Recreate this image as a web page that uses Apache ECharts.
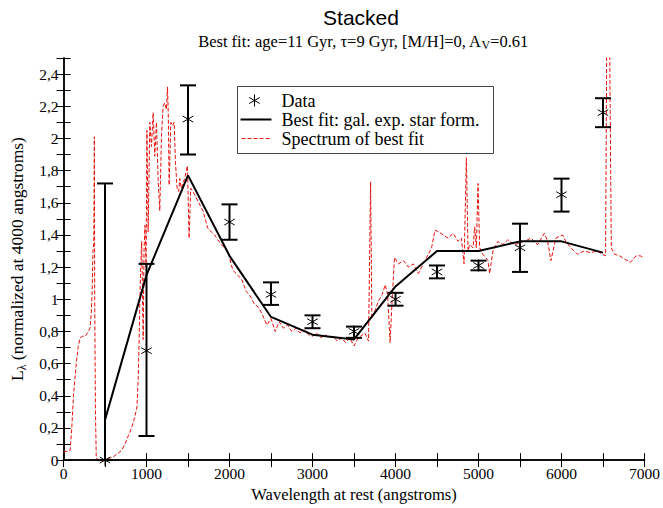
<!DOCTYPE html>
<html><head><meta charset="utf-8">
<script src="https://cdn.jsdelivr.net/npm/echarts@6/dist/echarts.min.js"></script>
<style>html,body{margin:0;padding:0;background:#fff}#c{width:663px;height:508px}</style>
</head><body><div id="c"></div>
<script>
// Observed data points with error bars
const dataX = [500, 1000, 1500, 2000, 2500, 3000, 3500, 4000, 4500, 5000, 5500, 6000, 6500];
const dataY = [0.0, 0.68, 2.12, 1.48, 1.03, 0.86, 0.80, 1.00, 1.17, 1.21, 1.32, 1.65, 2.16];
const errLow = [0.0, 0.15, 1.90, 1.37, 0.965, 0.82, 0.76, 0.96, 1.13, 1.18, 1.17, 1.545, 2.07];
const errHigh = [1.72, 1.22, 2.33, 1.59, 1.105, 0.90, 0.83, 1.04, 1.21, 1.24, 1.47, 1.75, 2.25];
// Best fit broad-band model
const fitX = [500, 1000, 1500, 2000, 2500, 3000, 3500, 4000, 4500, 5000, 5500, 6000, 6500];
const fitY = [0.25, 1.15, 1.77, 1.27, 0.89, 0.78, 0.75, 1.08, 1.30, 1.30, 1.36, 1.36, 1.29];
// Spectrum of best fit
const specX = [0,80,100,120,150,175,200,230,260,290,320,335,345,355,365,372,376,385,395,440,480,540,600,650,700,740,780,820,860,885,900,912,920,930,942,950,960,970,982,995,1005,1020,1040,1060,1080,1100,1120,1140,1160,1180,1200,1220,1240,1253,1262,1273,1293,1313,1333,1349,1369,1389,1400,1420,1460,1493,1513,1533,1560,1620,1680,1740,1820,1900,1980,2040,2100,2150,2200,2250,2300,2350,2400,2450,2500,2550,2600,2650,2700,2750,2800,2850,2900,2950,3000,3050,3100,3150,3200,3250,3300,3350,3400,3450,3500,3540,3580,3630,3675,3700,3715,3740,3795,3840,3876,3905,3935,3960,3988,4036,4096,4156,4216,4275,4315,4375,4435,4475,4515,4575,4635,4695,4754,4794,4826,4854,4874,4894,4934,4954,4974,4994,5014,5054,5114,5134,5174,5234,5293,5353,5433,5553,5633,5713,5793,5833,5872,5932,6012,6052,6112,6192,6272,6351,6431,6491,6531,6545,6580,6600,6640,6700,6760,6830,6900,6950,6985];
const specY = [0.05,0.06,0.20,0.40,0.58,0.70,0.76,0.77,0.77,0.79,0.82,0.92,1.05,1.30,1.35,2.01,1.00,0.30,0.01,0.00,0.00,0.01,0.02,0.04,0.06,0.10,0.15,0.20,0.27,0.33,0.50,0.77,0.99,1.20,1.36,1.10,0.75,1.30,1.46,1.20,2.05,1.42,2.10,1.95,2.16,1.89,2.10,1.75,1.55,2.01,2.20,2.22,2.18,2.32,2.16,1.71,2.10,2.08,2.10,1.85,1.69,1.67,1.75,1.69,1.75,1.83,1.38,1.69,1.67,1.61,1.55,1.44,1.40,1.34,1.30,1.18,1.15,1.12,1.05,1.02,0.97,0.95,0.90,0.84,0.88,0.80,0.86,0.82,0.84,0.80,0.82,0.79,0.81,0.78,0.77,0.79,0.76,0.78,0.76,0.77,0.74,0.76,0.73,0.76,0.71,0.75,0.77,0.79,0.74,1.73,0.88,0.91,0.99,1.03,1.09,1.03,0.73,1.00,1.26,1.22,1.24,1.20,1.22,1.16,1.20,1.26,1.32,1.43,1.42,1.40,1.38,1.41,1.36,1.38,1.22,1.88,1.30,1.34,1.32,1.45,1.32,1.72,1.32,1.28,1.24,1.16,1.30,1.36,1.34,1.37,1.34,1.36,1.38,1.34,1.41,1.36,1.24,1.38,1.40,1.36,1.32,1.28,1.30,1.29,1.30,1.28,1.27,2.60,2.60,1.32,1.28,1.27,1.25,1.23,1.27,1.27,1.26];
// Axis labelling
const xLabelStep = 1000;
const yLabelStep = 0.2;

const serif = "'Liberation Serif','DejaVu Serif',serif";
const chart = echarts.init(document.getElementById('c'), null, {renderer: 'svg'});

const pts = dataX.map((x, i) => [x, dataY[i], errLow[i], errHigh[i]]);
const fit = fitX.map((x, i) => [x, fitY[i]]);
const spec = specX.map((x, i) => [x, specY[i]]);

function asterisk(cx, cy, s, lw) {
  const dx = s * 0.87, dy = s * 0.5;
  const st = {stroke: '#000', lineWidth: lw};
  return [
    {type: 'line', shape: {x1: cx, y1: cy - s, x2: cx, y2: cy + s}, style: st},
    {type: 'line', shape: {x1: cx - dx, y1: cy - dy, x2: cx + dx, y2: cy + dy}, style: st},
    {type: 'line', shape: {x1: cx - dx, y1: cy + dy, x2: cx + dx, y2: cy - dy}, style: st}
  ];
}

const tickStyle = {show: true, inside: true, length: 7, lineStyle: {color: '#000', width: 1}};
const axisLineStyle = {show: true, lineStyle: {color: '#000', width: 1.5}};
const legFont = "18px 'Liberation Serif','DejaVu Serif',serif";

const option = {
  backgroundColor: '#fff',
  animation: false,
  title: [
    {text: 'Stacked', left: 356, top: 2, textAlign: 'center',
     textStyle: {fontFamily: "'Liberation Sans',Arial,sans-serif", fontSize: 21, fontWeight: 'normal', color: '#000'}},
    {text: 'Best fit: age=11 Gyr, τ=9 Gyr, [M/H]=0, A{sub|V}=0.61', left: 358, top: 26, textAlign: 'center',
     textStyle: {fontFamily: serif, fontSize: 16.5, fontWeight: 'normal', color: '#000', lineHeight: 20,
       rich: {sub: {fontFamily: serif, fontSize: 12, color: '#000', lineHeight: 20, verticalAlign: 'bottom', padding: [10, 0, 0, 0]}}}}
  ],
  grid: {left: 63, right: 16, top: 58, bottom: 43, containLabel: false},
  xAxis: [
    {type: 'value', min: 0, max: 7000, interval: 500, position: 'bottom',
     axisLine: axisLineStyle, axisTick: tickStyle, splitLine: {show: false},
     axisLabel: {margin: 5, color: '#000', fontFamily: serif, fontSize: 15.5,
       formatter: v => (Math.round(v) % xLabelStep === 0 ? String(v) : '')},
     name: 'Wavelength at rest (angstroms)', nameLocation: 'middle', nameGap: 23,
     nameTextStyle: {fontFamily: serif, fontSize: 16.5, color: '#000'}},
    {type: 'value', min: 0, max: 7000, interval: 500, position: 'top',
     axisLine: axisLineStyle, axisTick: tickStyle, axisLabel: {show: false}, splitLine: {show: false}}
  ],
  yAxis: [
    {type: 'value', min: 0, max: 2.5, interval: 0.1, position: 'left',
     axisLine: axisLineStyle, axisTick: tickStyle, splitLine: {show: false},
     axisLabel: {margin: 5, color: '#000', fontFamily: serif, fontSize: 15.5,
       formatter: v => {
         const k = Math.round(v / 0.1);
         if (k % Math.round(yLabelStep / 0.1) !== 0 || v > 2.45) return '';
         return String(Math.round(v * 10) / 10).replace('.', ',');
       }},
     name: '{b|L}{s|λ} (normalized at 4000 angstroms)', nameLocation: 'middle', nameGap: 36, nameRotate: 90,
     nameTextStyle: {fontFamily: serif, fontSize: 17.5, color: '#000',
       rich: {b: {fontFamily: serif, fontSize: 17.5, color: '#000'},
              s: {fontFamily: serif, fontSize: 12, color: '#000', padding: [9, 0, 0, 0]}}}},
    {type: 'value', min: 0, max: 2.5, interval: 0.1, position: 'right',
     axisLine: axisLineStyle, axisTick: tickStyle, axisLabel: {show: false}, splitLine: {show: false}}
  ],
  series: [
    {name: 'Spectrum of best fit', type: 'line', data: spec, showSymbol: false, symbol: 'none',
     lineStyle: {color: '#e8100c', width: 1, type: [4, 2]}, clip: true, z: 2},
    {name: 'Best fit: gal. exp. star form.', type: 'line', data: fit, showSymbol: false, symbol: 'none',
     lineStyle: {color: '#000', width: 2}, z: 3},
    {name: 'Data', type: 'custom', data: pts, clip: false, z: 4,
     renderItem: function (params, api) {
       const x = api.value(0), y = api.value(1), lo = api.value(2), hi = api.value(3);
       const p = api.coord([x, y]), pl = api.coord([x, lo]), ph = api.coord([x, hi]);
       const cw = 8;
       const st = {stroke: '#000', lineWidth: 2};
       const ch = [
         {type: 'line', shape: {x1: p[0], y1: ph[1], x2: p[0], y2: pl[1]}, style: st},
         {type: 'line', shape: {x1: p[0] - cw, y1: ph[1], x2: p[0] + cw, y2: ph[1]}, style: st},
         {type: 'line', shape: {x1: p[0] - cw, y1: pl[1], x2: p[0] + cw, y2: pl[1]}, style: st}
       ].concat(asterisk(p[0], p[1], 6, 1));
       return {type: 'group', children: ch};
     }}
  ],
  graphic: [
    {type: 'group', left: 237, top: 86, z: 100, children: [
      {type: 'rect', shape: {x: 0, y: 0, width: 256, height: 67}, style: {fill: '#fff', stroke: '#444', lineWidth: 1}},
      ...asterisk(17, 14, 6, 1),
      {type: 'text', x: 44, y: 14, style: {text: 'Data', font: legFont, fill: '#000', verticalAlign: 'middle'}},
      {type: 'line', shape: {x1: 3, y1: 33, x2: 34, y2: 33}, style: {stroke: '#000', lineWidth: 2}},
      {type: 'text', x: 44, y: 33, style: {text: 'Best fit: gal. exp. star form.', font: legFont, fill: '#000', verticalAlign: 'middle'}},
      {type: 'line', shape: {x1: 4, y1: 52, x2: 34, y2: 52}, style: {stroke: '#e8100c', lineWidth: 1, lineDash: [4, 2]}},
      {type: 'text', x: 44, y: 52, style: {text: 'Spectrum of best fit', font: legFont, fill: '#000', verticalAlign: 'middle'}}
    ]}
  ]
};
chart.setOption(option);
</script>
</body></html>
